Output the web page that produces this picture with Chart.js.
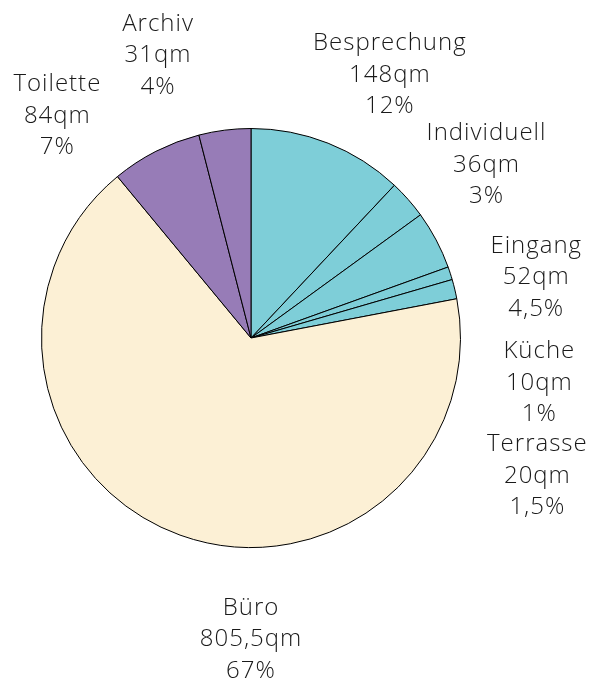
<!DOCTYPE html>
<html>
<head>
<meta charset="utf-8">
<script src="https://cdn.jsdelivr.net/npm/chart.js@4"></script>
<style>
  html, body { margin: 0; padding: 0; background: #fff; }
  #wrap { width: 600px; height: 684px; }
</style>
</head>
<body>
<div id="wrap"><canvas id="myChart"></canvas></div>
<script>
const rooms = ['Besprechung', 'Individuell', 'Eingang', 'Küche', 'Terrasse', 'Büro', 'Toilette', 'Archiv'];
const areas = ['148', '36', '52', '10', '20', '805,5', '84', '31'];
const shares = [12, 3, 4.5, 1, 1.5, 67, 7, 4];

const teal = 'rgb(126, 206, 216)';
const cream = 'rgb(252, 240, 213)';
const purple = 'rgb(151, 124, 183)';
const colors = [teal, teal, teal, teal, teal, cream, purple, purple];

// where each text block sits: angle from 12 o'clock (deg) and distance in pie radii
const labelSpots = [
    [27.8, 1.421], [53.7, 1.395], [78.0, 1.392], [98.9, 1.393],
    [115.7, 1.517], [180, 1.438], [318.9, 1.406], [341.8, 1.421],
];

const outLabels = {
    id: 'outLabels',
    afterDraw(chart) {
        const ctx = chart.ctx;
        const arc = chart.getDatasetMeta(0).data[0];
        const cx = arc.x, cy = arc.y, r = arc.outerRadius;
        ctx.save();
        ctx.font = '300 24px "Open Sans", sans-serif';
        ctx.letterSpacing = '1px';
        ctx.fillStyle = '#1a1a1a';
        ctx.textAlign = 'center';
        ctx.textBaseline = 'middle';
        rooms.forEach((name, i) => {
            const a = labelSpots[i][0] * Math.PI / 180;
            const d = labelSpots[i][1] * r;
            const x = cx + d * Math.sin(a);
            const y = cy - d * Math.cos(a);
            const lines = [name, areas[i] + 'qm', String(shares[i]).replace('.', ',') + '%'];
            lines.forEach((t, k) => ctx.fillText(t, x, y + (k - 1) * 31.5));
        });
        ctx.restore();
    }
};

const config = {
    type: 'pie',
    data: {
        labels: rooms,
        datasets: [{
            data: shares,
            backgroundColor: colors,
            borderColor: '#000',
            borderWidth: 1,
        }],
    },
    options: {
        responsive: true,
        maintainAspectRatio: false,
        animation: false,
        layout: { padding: { left: 41, right: 139, top: 128, bottom: 136 } },
        plugins: {
            legend: { display: false },
            tooltip: { enabled: false },
        },
    },
    plugins: [outLabels],
};
const myChart = new Chart(document.getElementById('myChart'), config);
</script>
</body>
</html>
